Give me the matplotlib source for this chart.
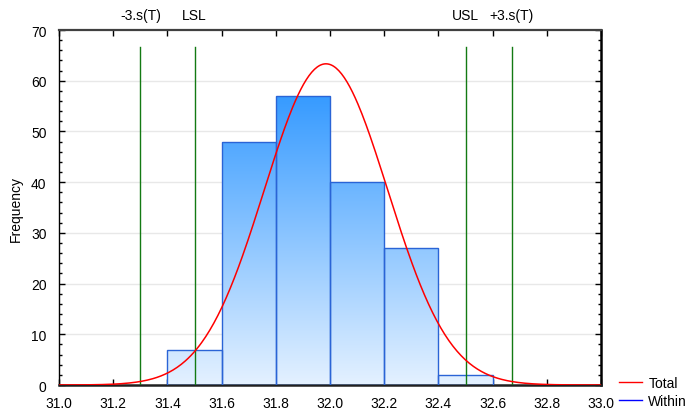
import numpy as np
import matplotlib
matplotlib.use("Agg")
import matplotlib.pyplot as plt
from matplotlib.colors import LinearSegmentedColormap
from matplotlib.lines import Line2D

plt.rcParams['font.family'] = ['Liberation Sans', 'DejaVu Sans']
plt.rcParams['font.size'] = 10

# histogram data
bin_edges = [31.4, 31.6, 31.8, 32.0, 32.2, 32.4, 32.6]
counts = [7, 48, 57, 40, 27, 2]

# fitted normal (Total)
mean_total = 31.985
sigma_total = 0.228

# spec / control lines
vlines = [31.30, 31.50, 32.50, 32.67]
vline_labels = ['-3.s(T)', 'LSL', 'USL', '+3.s(T)']
vline_top = 66.6

xticks = [31.0, 31.2, 31.4, 31.6, 31.8, 32.0, 32.2, 32.4, 32.6, 32.8, 33.0]
yticks = [0, 10, 20, 30, 40, 50, 60, 70]

fig = plt.figure(figsize=(6.91, 4.14), dpi=100)
ax = fig.add_axes([0.0854, 0.0676, 0.7844, 0.8574])
ax.set_xlim(31.0, 33.0)
ax.set_ylim(0, 70)

# grid behind bars
for y in yticks[1:-1]:
    ax.axhline(y, color='#e8e8e8', lw=1, zorder=0)

# gradient-filled bars
cmap = LinearSegmentedColormap.from_list('bl', ['#e4f1ff', '#3399ff'])
grad = np.linspace(0, 1, 256).reshape(-1, 1)
bars = ax.bar(bin_edges[:-1], counts, width=np.diff(bin_edges), align='edge',
              facecolor='none', edgecolor='#2a64d6', lw=1.0, zorder=3)
for b in bars:
    im = ax.imshow(grad, cmap=cmap, origin='lower', aspect='auto',
                   extent=[31.0, 33.0, 0, 58], vmin=0, vmax=1, zorder=2)
    im.set_clip_path(b)

# green lines
for xv in vlines:
    ax.plot([xv, xv], [0, vline_top], color='#137a13', lw=1, zorder=4)
for xv, lab in zip(vlines, vline_labels):
    ax.text(xv, 1.022, lab, transform=ax.get_xaxis_transform(),
            ha='center', va='bottom', fontsize=10)

# normal curve
xs = np.linspace(31.0, 33.0, 400)
n = sum(counts)
bw = bin_edges[1] - bin_edges[0]
ys = n * bw / (sigma_total * np.sqrt(2 * np.pi)) * np.exp(-0.5 * ((xs - mean_total) / sigma_total) ** 2)
ax.plot(xs, ys, color='#ff0000', lw=1.1, zorder=5)

ax.set_xticks(xticks)
ax.set_xticklabels([f'{v:.1f}' for v in xticks])
ax.set_yticks(yticks)
ax.set_yticks(np.arange(0, 71, 2), minor=True)
ax.tick_params(direction='in', top=True, right=True, length=4, width=1)
ax.tick_params(axis='x', pad=8)
ax.tick_params(axis='y', pad=9)
ax.tick_params(which='minor', direction='in', left=True, right=True, length=2, width=1)
ax.set_ylabel('Frequency', fontsize=10, labelpad=6)

ax.spines['left'].set_linewidth(1.0)
ax.spines['top'].set_linewidth(1.6)
ax.spines['top'].set_color('#404040')
ax.spines['right'].set_linewidth(1.8)
ax.spines['bottom'].set_linewidth(1.8)
ax.spines['bottom'].set_color('#202020')

handles = [Line2D([], [], color='#ff0000', lw=1), Line2D([], [], color='#0000ff', lw=1)]
fig.legend(handles, ['Total', 'Within'], loc='lower left',
           bbox_to_anchor=(0.896, 0.012), frameon=False, borderaxespad=0,
           borderpad=0, handlelength=1.65, handletextpad=0.45,
           labelspacing=0.3, fontsize=10)

fig.savefig('out.png', dpi=100)
